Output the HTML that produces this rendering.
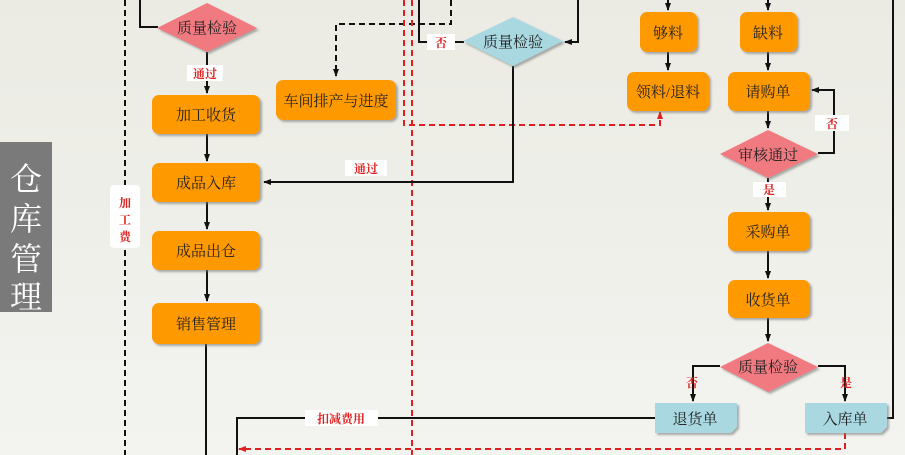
<!DOCTYPE html>
<html><head><meta charset="utf-8"><style>
html,body{margin:0;padding:0;width:905px;height:455px;overflow:hidden;background:#eeeee8}
svg{display:block}
text{font-family:"Liberation Serif","Noto Serif CJK SC","Noto Sans CJK SC",serif}
</style></head><body>
<svg width="905" height="455" viewBox="0 0 905 455" xmlns="http://www.w3.org/2000/svg">
<defs>
<linearGradient id="bg" x1="0" y1="0" x2="0" y2="1"><stop offset="0" stop-color="#ebebe3"/><stop offset="1" stop-color="#f3f3f0"/></linearGradient>
<marker id="a" markerWidth="8" markerHeight="8" refX="7" refY="4" orient="auto" markerUnits="userSpaceOnUse"><path d="M0,1 L8,4 L0,7z" fill="#111"/></marker>
<marker id="r" markerWidth="8" markerHeight="8" refX="7" refY="4" orient="auto" markerUnits="userSpaceOnUse"><path d="M0,1 L8,4 L0,7z" fill="#e02020"/></marker>
<filter id="sh" x="-10%" y="-10%" width="130%" height="140%"><feDropShadow dx="2" dy="2" stdDeviation="1" flood-color="#777" flood-opacity="0.6"/></filter>
</defs>
<rect width="905" height="455" fill="url(#bg)"/>
<!-- left label -->
<rect x="0" y="142" width="52" height="170" fill="#7a7a7a"/>
<g fill="#fff" font-size="32" text-anchor="middle" style="font-family:'Noto Sans CJK SC',sans-serif">
<text x="26" y="190">仓</text><text x="26" y="230">库</text><text x="26" y="270">管</text><text x="26" y="308">理</text></g>

<!-- dashed lines -->
<g fill="none" stroke-width="2">
<path d="M125,0 V455" stroke="#111" stroke-dasharray="6,4"/>
<path d="M451,0 V24 H336 V76" stroke="#111" stroke-dasharray="6,4" marker-end="url(#a)"/>
<path d="M404,0 V125 H660 V112" stroke="#e02020" stroke-dasharray="6,4" marker-end="url(#r)"/>
<path d="M412,0 V455" stroke="#e02020" stroke-dasharray="6,4"/>
<path d="M845,433 V449 H239" stroke="#e02020" stroke-dasharray="6,4" marker-end="url(#r)"/>
</g>
<!-- solid lines -->
<g fill="none" stroke="#111" stroke-width="2">
<path d="M140,0 V27 H158"/>
<path d="M207,52 V93" marker-end="url(#a)"/>
<path d="M207,134 V161" marker-end="url(#a)"/>
<path d="M207,202 V229" marker-end="url(#a)"/>
<path d="M207,270 V301" marker-end="url(#a)"/>
<path d="M206,344 V455"/>
<path d="M419,0 V42 H464"/>
<path d="M578,0 V42 H565" marker-end="url(#a)"/>
<path d="M513,66 V182 H264" marker-end="url(#a)"/>
<path d="M668,0 V10" marker-end="url(#a)"/>
<path d="M668,52 V70" marker-end="url(#a)"/>
<path d="M768,0 V10" marker-end="url(#a)"/>
<path d="M768,52 V70" marker-end="url(#a)"/>
<path d="M768,111 V128" marker-end="url(#a)"/>
<path d="M818,153 H834 V90 H812" marker-end="url(#a)"/>
<path d="M768,178 V210" marker-end="url(#a)"/>
<path d="M768,251 V278" marker-end="url(#a)"/>
<path d="M768,318 V341" marker-end="url(#a)"/>
<path d="M720,366 H693 V401" marker-end="url(#a)"/>
<path d="M818,366 H845 V401" marker-end="url(#a)"/>
<path d="M887,418 H893 V0"/>
<path d="M655,418 H237 V455"/>
</g>

<!-- orange boxes -->
<g fill="#ff9900" filter="url(#sh)">
<rect x="152" y="95" width="108" height="39" rx="7"/>
<rect x="152" y="163" width="108" height="39" rx="7"/>
<rect x="152" y="231" width="108" height="39" rx="7"/>
<rect x="152" y="303" width="108" height="41" rx="7"/>
<rect x="276" y="80" width="120" height="40" rx="7"/>
<rect x="640" y="12" width="57" height="40" rx="7"/>
<rect x="627" y="72" width="82" height="39" rx="7"/>
<rect x="740" y="12" width="57" height="40" rx="7"/>
<rect x="728" y="72" width="82" height="39" rx="7"/>
<rect x="728" y="212" width="82" height="39" rx="7"/>
<rect x="728" y="280" width="82" height="38" rx="7"/>
</g>
<!-- diamonds -->
<g filter="url(#sh)">
<path d="M157,28 L207,3 L257,28 L207,52z" fill="#f07a80"/>
<path d="M463,41 L513,17 L563,41 L513,66z" fill="#a9d8e0"/>
<path d="M720,154 L768,130 L818,154 L768,178z" fill="#f07a80"/>
<path d="M720,367 L768,343 L818,367 L768,392z" fill="#f07a80"/>
<path d="M655,403 H737 V427 L731,433 H655z" fill="#a9d8e0"/>
<path d="M805,403 H887 V427 L881,433 H805z" fill="#a9d8e0"/>
</g>

<!-- labels white -->
<g fill="#fff">
<rect x="187" y="65" width="36" height="16"/>
<rect x="110" y="185" width="30" height="63" rx="4"/>
<rect x="427" y="34" width="28" height="16"/>
<rect x="345" y="160" width="42" height="16"/>
<rect x="815" y="115" width="34" height="16"/>
<rect x="753" y="182" width="33" height="15"/>
<rect x="305" y="410" width="73" height="16"/>
</g>

<g font-size="15" fill="#222" text-anchor="middle">
<text x="207" y="33">质量检验</text>
<text x="206" y="120">加工收货</text>
<text x="206" y="188">成品入库</text>
<text x="206" y="256">成品出仓</text>
<text x="206" y="329">销售管理</text>
<text x="336" y="106">车间排产与进度</text>
<text x="513" y="47">质量检验</text>
<text x="668" y="38">够料</text>
<text x="668" y="97">领料/退料</text>
<text x="768" y="38">缺料</text>
<text x="768" y="97">请购单</text>
<text x="768" y="160">审核通过</text>
<text x="768" y="237">采购单</text>
<text x="768" y="305">收货单</text>
<text x="768" y="372">质量检验</text>
<text x="695" y="424">退货单</text>
<text x="845" y="424">入库单</text>
</g>
<g font-size="12" fill="#e02020" text-anchor="middle" font-weight="bold">
<text x="205" y="78">通过</text>
<text x="125" y="207">加</text><text x="125" y="224">工</text><text x="125" y="241">费</text>
<text x="441" y="47">否</text>
<text x="366" y="173">通过</text>
<text x="832" y="128">否</text>
<text x="769" y="194">是</text>
<text x="692" y="387">否</text>
<text x="846" y="387">是</text>
<text x="341" y="423">扣减费用</text>
</g>
</svg>
</body></html>
